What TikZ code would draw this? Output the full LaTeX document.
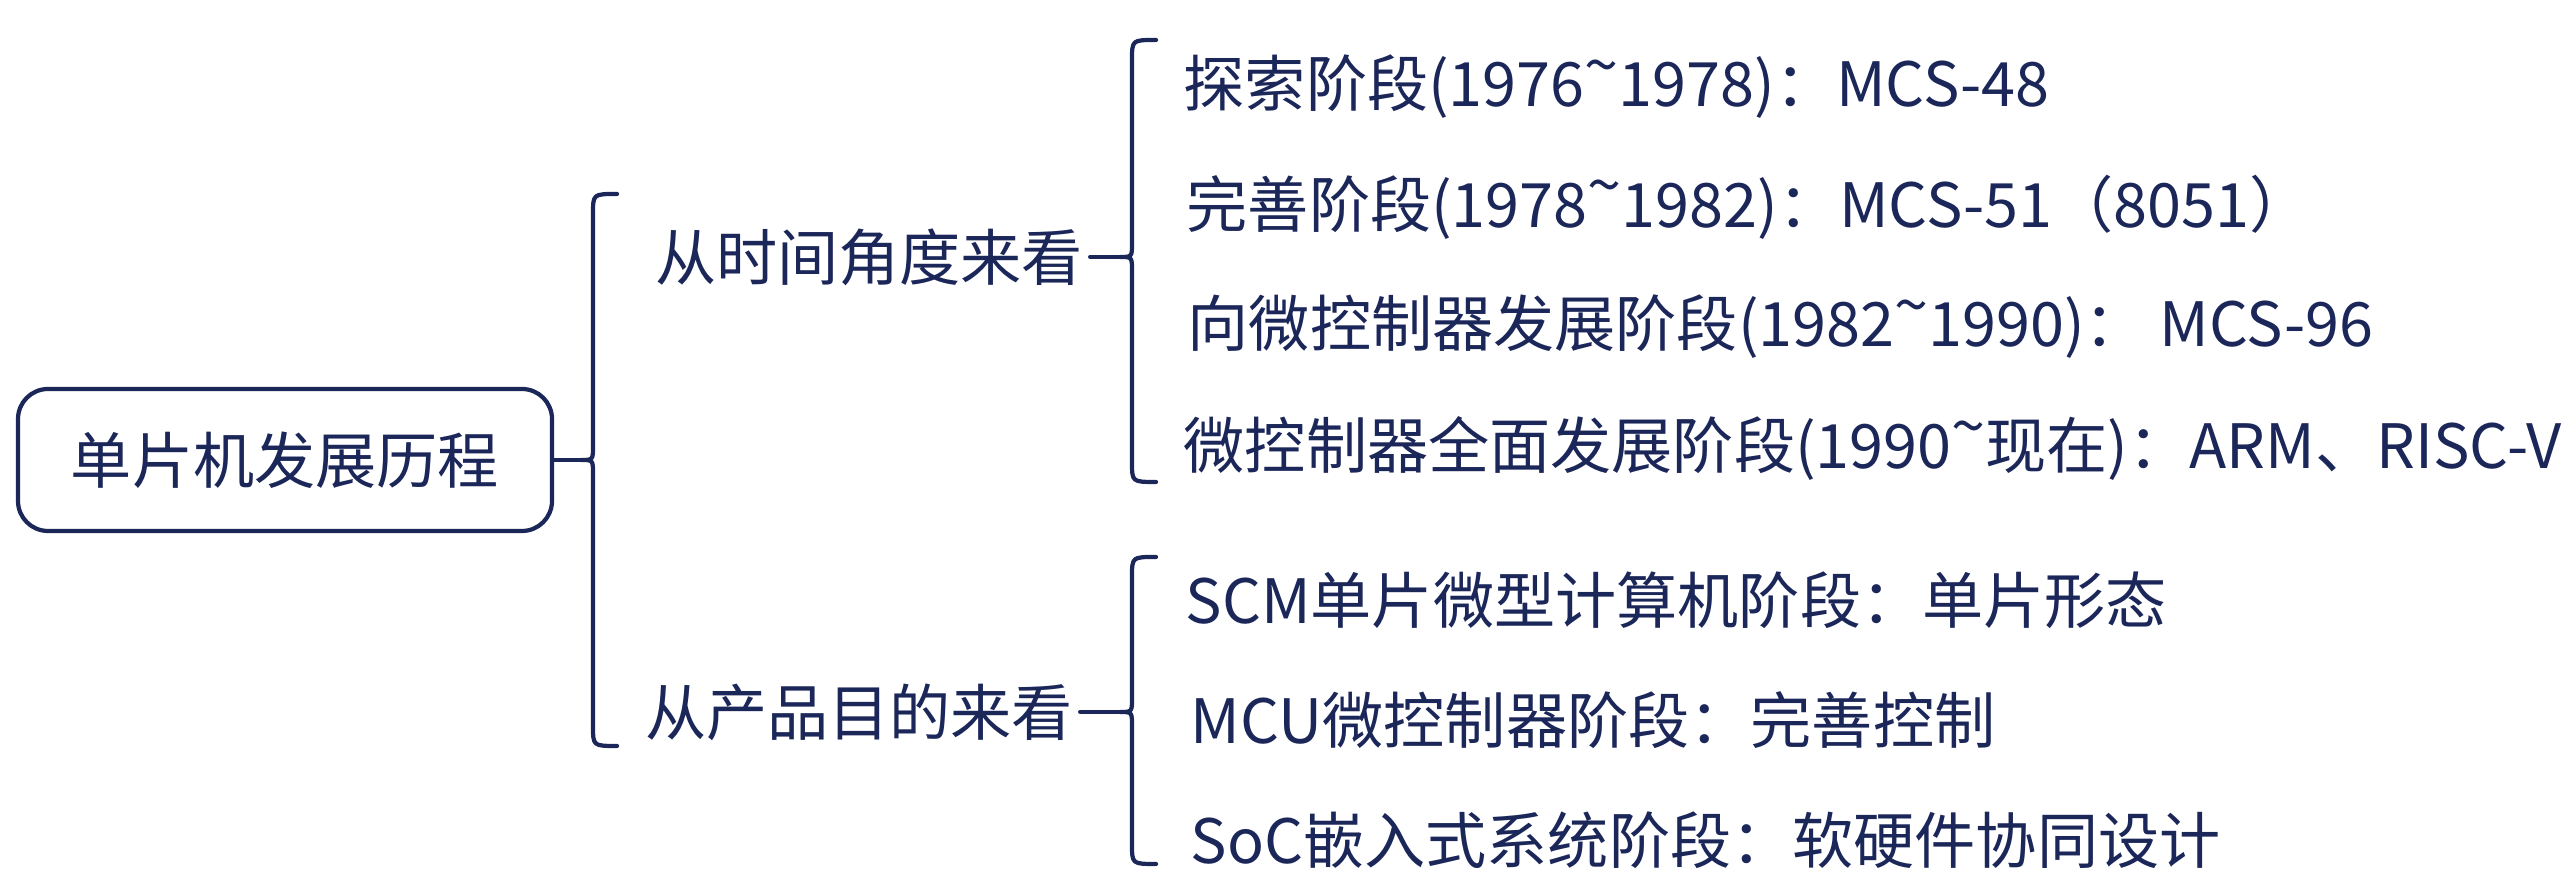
\documentclass[tikz,border=0pt]{standalone}
\usepackage{fontspec}
\setmainfont{Noto Sans CJK SC}
\usetikzlibrary{calc,positioning}
\definecolor{darknavy}{RGB}{27,38,89}
\newcommand{\bolang}{\raisebox{.32em}{\textasciitilde}}
% brace: x, top y, bottom y, tip y
\newcommand{\kuohao}[4]{%
  \draw[kuo] (#1+0.24,#2) .. controls (#1,#2) .. (#1,#2-0.2)
    -- (#1,#4+0.14) .. controls (#1,#4) .. (#1-0.12,#4)
    .. controls (#1,#4) .. (#1,#4-0.14)
    -- (#1,#3+0.2) .. controls (#1,#3) .. (#1+0.24,#3);}
\tikzset{
  raiz/.style={
    rounded corners=0.3cm,
    draw=darknavy,
    line width=1.2pt,
    minimum width=5.34cm,
    minimum height=1.42cm,
    inner sep=0pt,
    text=darknavy,
    font=\fontsize{17.4}{21}\selectfont
  },
  rama/.style={
    anchor=west,
    inner sep=0pt,
    outer xsep=2pt,
    text=darknavy,
    font=\fontsize{17.4}{21}\selectfont
  },
  hoja/.style={
    anchor=west,
    inner sep=0pt,
    text=darknavy,
    font=\fontsize{17.4}{21}\selectfont
  },
  kuo/.style={
    darknavy,
    line width=1.2pt,
    line cap=round,
    line join=round
  }
}
\begin{document}
\begin{tikzpicture}
\useasboundingbox (0,0) rectangle (25.65,8.70);
\node[raiz] (raiz) at (2.85,4.10) {单片机发展历程};
\node[rama] (tiempo) at (6.48,6.13) {从时间角度来看};
\node[rama] (producto) at (6.38,1.58) {从产品目的来看};
% hojas
\node[hoja] (h1) at (11.83,7.83) {探索阶段(1976\bolang{}1978)：MCS-48};
\node[hoja] (h2) at (11.86,6.63) {完善阶段(1978\bolang{}1982)：MCS-51（8051）};
\node[hoja] (h3) at (11.87,5.43) {向微控制器发展阶段(1982\bolang{}1990)： MCS-96};
\node[hoja] (h4) at (11.83,4.22) {微控制器全面发展阶段(1990\bolang{}现在)：ARM、RISC-V};
\node[hoja] (h5) at (11.85,2.70) {SCM单片微型计算机阶段：单片形态};
\node[hoja] (h6) at (11.90,1.50) {MCU微控制器阶段：完善控制};
\node[hoja] (h7) at (11.90,0.30) {SoC嵌入式系统阶段：软硬件协同设计};
% llaves
\coordinate (k1) at (5.81,4.10);
\coordinate (k2) at (11.20,6.13);
\coordinate (k3) at (11.20,1.58);
\kuohao{5.93}{6.76}{1.24}{4.10}
\kuohao{11.32}{8.30}{3.88}{6.13}
\kuohao{11.32}{3.13}{0.06}{1.58}
\draw[kuo] (raiz.east) -- (k1);
\draw[kuo] (tiempo.east) -- (k2);
\draw[kuo] (producto.east) -- (k3);
\end{tikzpicture}
\end{document}
